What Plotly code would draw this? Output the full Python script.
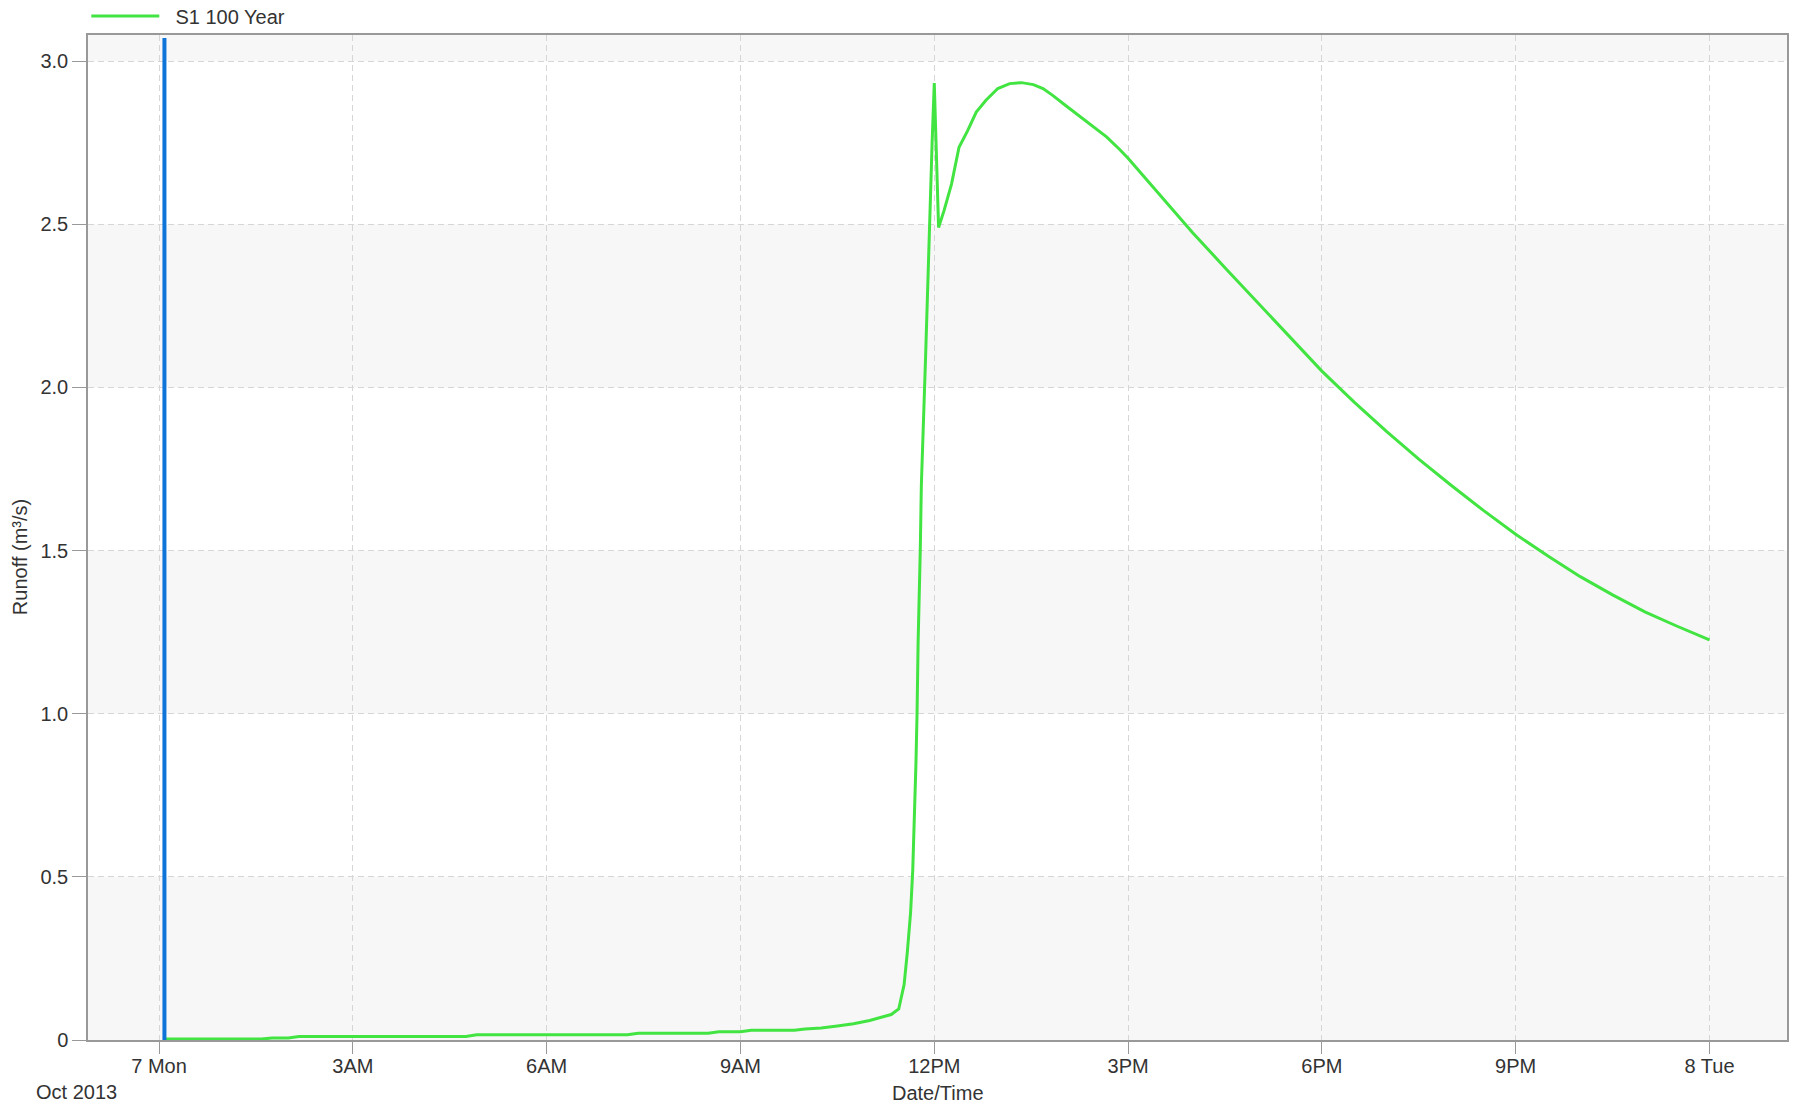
import plotly.graph_objects as go

# ---------------- data ----------------
series_name = "S1 100 Year"
times = [
    "2013-10-07 00:05", "2013-10-07 01:35", "2013-10-07 01:45", "2013-10-07 02:00",
    "2013-10-07 02:10", "2013-10-07 04:45", "2013-10-07 04:55", "2013-10-07 07:15",
    "2013-10-07 07:25", "2013-10-07 08:30", "2013-10-07 08:40", "2013-10-07 09:00",
    "2013-10-07 09:10", "2013-10-07 09:50", "2013-10-07 10:00", "2013-10-07 10:15",
    "2013-10-07 10:30", "2013-10-07 10:45", "2013-10-07 11:00", "2013-10-07 11:10",
    "2013-10-07 11:20", "2013-10-07 11:27", "2013-10-07 11:32", "2013-10-07 11:35",
    "2013-10-07 11:38", "2013-10-07 11:40", "2013-10-07 11:42", "2013-10-07 11:43",
    "2013-10-07 11:44", "2013-10-07 11:45", "2013-10-07 11:47", "2013-10-07 11:48",
    "2013-10-07 11:52", "2013-10-07 11:55", "2013-10-07 11:58", "2013-10-07 12:00",
    "2013-10-07 12:04", "2013-10-07 12:09", "2013-10-07 12:16", "2013-10-07 12:23",
    "2013-10-07 12:31", "2013-10-07 12:39", "2013-10-07 12:48", "2013-10-07 12:59",
    "2013-10-07 13:10", "2013-10-07 13:21", "2013-10-07 13:32", "2013-10-07 13:41",
    "2013-10-07 13:50", "2013-10-07 14:02", "2013-10-07 14:15", "2013-10-07 14:28",
    "2013-10-07 14:40", "2013-10-07 14:52", "2013-10-07 15:00", "2013-10-07 15:30",
    "2013-10-07 16:00", "2013-10-07 16:30", "2013-10-07 17:00", "2013-10-07 17:30",
    "2013-10-07 18:00", "2013-10-07 18:30", "2013-10-07 19:00", "2013-10-07 19:30",
    "2013-10-07 20:00", "2013-10-07 20:30", "2013-10-07 21:00", "2013-10-07 21:30",
    "2013-10-07 22:00", "2013-10-07 22:30", "2013-10-07 23:00", "2013-10-07 23:30",
    "2013-10-08 00:00",
]
runoff = [
    0.003, 0.003, 0.006, 0.006,
    0.011, 0.011, 0.016, 0.016,
    0.021, 0.021, 0.025, 0.025,
    0.030, 0.030, 0.034, 0.037,
    0.043, 0.050, 0.060, 0.068,
    0.078, 0.095, 0.170, 0.270,
    0.390, 0.520, 0.700, 0.850,
    1.000, 1.220, 1.500, 1.700,
    2.100, 2.450, 2.750, 2.933,
    2.490, 2.541, 2.623, 2.736,
    2.787, 2.844, 2.880, 2.916,
    2.931, 2.934, 2.928, 2.916,
    2.895, 2.864, 2.832, 2.800,
    2.768, 2.730, 2.702, 2.588,
    2.474, 2.367, 2.262, 2.155,
    2.050, 1.955, 1.865, 1.780,
    1.700, 1.623, 1.550, 1.483,
    1.420, 1.364, 1.312, 1.268,
    1.226,
]
marker_time = "2013-10-07 00:05"

x_tick_vals = [
    "2013-10-07 00:00", "2013-10-07 03:00", "2013-10-07 06:00", "2013-10-07 09:00",
    "2013-10-07 12:00", "2013-10-07 15:00", "2013-10-07 18:00", "2013-10-07 21:00",
    "2013-10-08 00:00",
]
x_tick_text = ["7 Mon", "3AM", "6AM", "9AM", "12PM", "3PM", "6PM", "9PM", "8 Tue"]
y_tick_vals = [0, 0.5, 1.0, 1.5, 2.0, 2.5, 3.0]
y_tick_text = ["0", "0.5", "1.0", "1.5", "2.0", "2.5", "3.0"]
x_range = ["2013-10-06 22:54", "2013-10-08 01:12"]
y_range = [0, 3.08]
band_starts = [0, 1.0, 2.0, 3.0]
band_ends = [0.5, 1.5, 2.5, 3.08]

x_title = "Date/Time"
y_title = "Runoff (m³/s)"
date_label = "Oct 2013"

# ---------------- figure ----------------
FONT = "Liberation Sans, Arial, sans-serif"
TXT = "#333333"
FS = 20

fig = go.Figure()
fig.add_trace(go.Scatter(
    x=times, y=runoff, mode="lines", name="\u00a0\u00a0" + series_name,
    line=dict(color="#42e442", width=3),
))

shapes = []
for b0, b1 in zip(band_starts, band_ends):
    shapes.append(dict(type="rect", xref="paper", x0=0, x1=1, yref="y", y0=b0, y1=b1,
                       fillcolor="#f7f7f7", line=dict(width=0), layer="below"))
shapes.append(dict(type="line", xref="x", x0=marker_time, x1=marker_time,
                   yref="y domain", y0=0, y1=0.997,
                   line=dict(color="#0f74d8", width=4), layer="above"))

fig.update_layout(
    width=1797, height=1108,
    margin=dict(l=88, r=10, t=35, b=68, autoexpand=False),
    paper_bgcolor="white", plot_bgcolor="white",
    font=dict(family=FONT, size=FS, color=TXT),
    showlegend=True,
    legend=dict(x=-0.001, y=1.019, xanchor="left", yanchor="middle",
                orientation="h", font=dict(size=FS, color=TXT),
                bgcolor="rgba(0,0,0,0)", itemwidth=68,
                borderwidth=0),
    shapes=shapes,
    annotations=[
        dict(text=y_title, xref="paper", yref="paper", x=-0.0403, y=0.48,
             xanchor="center", yanchor="middle", textangle=-90,
             showarrow=False, font=dict(size=FS, color=TXT, family=FONT)),
        dict(text=date_label, xref="paper", yref="paper", x=-0.0065, y=-0.052,
             xanchor="center", yanchor="middle",
             showarrow=False, font=dict(size=FS, color=TXT, family=FONT)),
        dict(text=x_title, xref="paper", yref="paper", x=0.5, y=-0.0527,
             xanchor="center", yanchor="middle",
             showarrow=False, font=dict(size=FS, color=TXT, family=FONT)),
    ],
)

fig.update_xaxes(
    type="date", range=x_range,
    tickmode="array", tickvals=x_tick_vals, ticktext=x_tick_text,
    ticks="outside", ticklen=12, tickcolor="#999999", tickwidth=1,
    ticklabelstandoff=-5,
    showgrid=True, gridcolor="#d6d6d6", gridwidth=1, griddash="6px,4px",
    showline=True, linecolor="#999999", linewidth=1.5, mirror=True,
    zeroline=False, tickfont=dict(size=FS, color=TXT),
)
fig.update_yaxes(
    range=y_range,
    tickmode="array", tickvals=y_tick_vals, ticktext=y_tick_text,
    ticks="outside", ticklen=14, tickcolor="#999999", tickwidth=1,
    showgrid=True, gridcolor="#d6d6d6", gridwidth=1, griddash="6px,4px",
    showline=True, linecolor="#999999", linewidth=1.5, mirror=True,
    zeroline=False, tickfont=dict(size=FS, color=TXT),
)

fig.write_html("out.html")
